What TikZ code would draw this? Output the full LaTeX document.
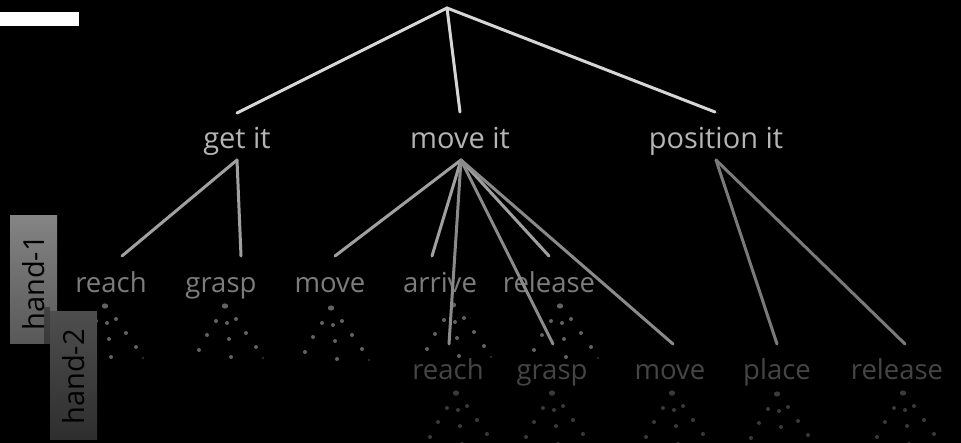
\documentclass[tikz,border=0pt]{standalone}
\usepackage{fontspec}
\setmainfont{Open Sans}
\definecolor{rootcol}{HTML}{D6D6D6}
\definecolor{lonecol}{HTML}{B4B4B4}
\definecolor{lineone}{HTML}{A0A0A0}
\definecolor{linetwo}{HTML}{8A8A8A}
\definecolor{linepos}{HTML}{7A7A7A}
\definecolor{honecol}{HTML}{7C7C7C}
\definecolor{htwocol}{HTML}{454545}
\definecolor{donecol}{HTML}{626262}
\definecolor{dtwocol}{HTML}{3A3A3A}
\definecolor{boxonetop}{HTML}{848484}
\definecolor{boxonebot}{HTML}{585858}
\definecolor{boxtwotop}{HTML}{4E4E4E}
\definecolor{boxtwobot}{HTML}{2E2E2E}
\newcommand\dotgroup[2]{%
  \begin{scope}[shift={(#1)}]
    \fill[#2] (0,0) ellipse (3.2 and 2.6);
    \foreach \dx/\dy in {-9/15,2/17,11/13,-18/29,4/33,21/27,-26/44,6/51,31/41}
      \fill[#2] (\dx,\dy) circle (2);
    \fill[#2,opacity=.45] (38,52) circle (1.3);
  \end{scope}}
\begin{document}
\begin{tikzpicture}[x=1pt,y=-1pt,
  lvlone/.style={text=lonecol,font=\fontsize{29}{29}\selectfont,anchor=base,inner sep=0pt},
  leafone/.style={text=honecol,font=\fontsize{27.5}{27.5}\selectfont,anchor=base,inner sep=0pt},
  leaftwo/.style={text=htwocol,font=\fontsize{27.5}{27.5}\selectfont,anchor=base,inner sep=0pt},
  rootline/.style={draw=rootcol,line width=3pt,line cap=round},
  subline/.style={draw=lineone,line width=3pt,line cap=round},
  deepline/.style={draw=linetwo,line width=3pt,line cap=round},
  posline/.style={draw=linepos,line width=3pt,line cap=round},
  handbox/.style={inner sep=0pt,minimum width=47pt,minimum height=128pt},
  handtext/.style={rotate=90,inner sep=0pt,font=\fontsize{29}{29}\selectfont,text=black}]
\fill[black] (0,0) rectangle (961,443);
\useasboundingbox (0,0) rectangle (961,443);
% white bar
\node (bar) [fill=white,inner sep=0pt,minimum width=79pt,minimum height=14pt] at (39.5,19) {};
% level-1 labels
\node (getit) [lvlone] at (237,149) {get it};
\node (moveit) [lvlone] at (460,149) {move it};
\node (posit) [lvlone] at (716,149) {position it};
% hand-1 labels
\node (areach) [leafone] at (111,293) {reach};
\node (agrasp) [leafone] at (221,293) {grasp};
\node (amove) [leafone] at (330,293) {move};
\node (aarrive) [leafone] at (440,293) {arrive};
\node (arelease) [leafone] at (549,293) {release};
% hand-2 labels
\node (breach) [leaftwo] at (448,380) {reach};
\node (bgrasp) [leaftwo] at (552,380) {grasp};
\node (bmove) [leaftwo] at (670,380) {move};
\node (bplace) [leaftwo] at (777,380) {place};
\node (brelease) [leaftwo] at (897,380) {release};
% dots
\dotgroup{105,306}{donecol}
\dotgroup{225,306}{donecol}
\dotgroup{331,308}{donecol}
\dotgroup{453,305}{donecol}
\dotgroup{560,306}{donecol}
\dotgroup{456,393}{dtwocol}
\dotgroup{552,393}{dtwocol}
\dotgroup{672,393}{dtwocol}
\dotgroup{777,394}{dtwocol}
\dotgroup{903,393}{dtwocol}
% connector points
\coordinate (root) at (447,8);
\coordinate (getin) at (237,113);
\coordinate (movein) at (460,112);
\coordinate (posin) at (715,112);
\coordinate (getout) at (237,160);
\coordinate (moveout) at (461,160);
\coordinate (posout) at (716,160);
\coordinate (areachin) at (122,256);
\coordinate (agraspin) at (241,256);
\coordinate (amovein) at (335,256);
\coordinate (aarrivein) at (432,256);
\coordinate (areleasein) at (549,256);
\coordinate (breachin) at (449,344);
\coordinate (bgraspin) at (553,344);
\coordinate (bmovein) at (673,344);
\coordinate (bplacein) at (777,344);
\coordinate (breleasein) at (905,344);
% connectors
\draw[rootline] (getin) -- (root) -- (posin);
\draw[rootline] (root) -- (movein);
\draw[subline] (getout) -- (areachin);
\draw[subline] (getout) -- (agraspin);
\draw[subline] (moveout) -- (amovein);
\draw[subline] (moveout) -- (aarrivein);
\draw[subline] (moveout) -- (areleasein);
\draw[deepline] (moveout) -- (breachin);
\draw[deepline] (moveout) -- (bgraspin);
\draw[deepline] (moveout) -- (bmovein);
\draw[posline] (posout) -- (bplacein);
\draw[posline] (posout) -- (breleasein);
% hand boxes
\node (hboxone) [handbox,top color=boxonetop,bottom color=boxonebot] at (33.5,280) {};
\node (hone) [handtext] at (34,283) {hand-1};
\fill[black,opacity=.35] (44,307) rectangle (50,344);
\node (hboxtwo) [handbox,top color=boxtwotop,bottom color=boxtwobot] at (73.5,375.5) {};
\node (htwo) [handtext] at (74,377) {hand-2};
\end{tikzpicture}
\end{document}
